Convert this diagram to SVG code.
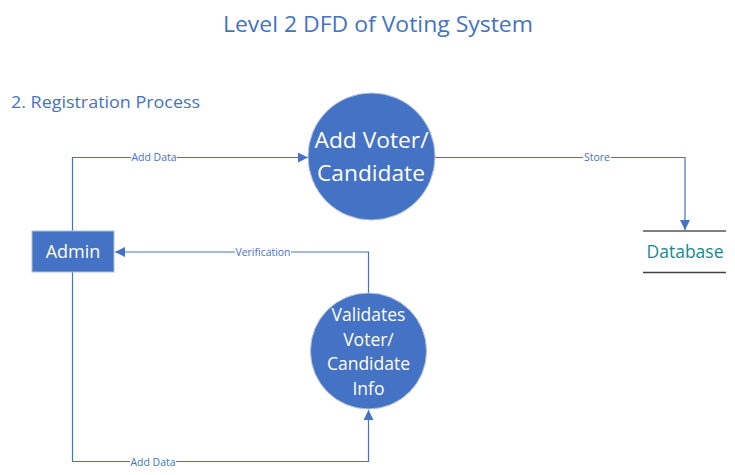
<svg xmlns="http://www.w3.org/2000/svg" width="735" height="475" viewBox="0 0 735 475">
<defs>
<marker id="arr" viewBox="0 0 10 10" refX="10" refY="5" markerWidth="10" markerHeight="10" markerUnits="userSpaceOnUse" orient="auto">
<path d="M0,0 L10,5 L0,10 z" fill="#4472C4"/>
</marker>
<style>
.t{font-family:"Open Sans","Noto Sans","Liberation Sans",sans-serif;}
.title{fill:#4472C4;}
.proc{fill:#4472C4;stroke:#b0c0dc;stroke-width:1;}
.wt{fill:#ffffff;text-anchor:middle;}
.conn{fill:none;stroke:#4472C4;stroke-width:1.2;}
.lbl{font-size:10.5px;fill:#4472C4;text-anchor:middle;}
.lbg{fill:#ffffff;}
</style>
</defs>
<rect width="735" height="475" fill="#ffffff"/>
<text class="t title" x="378" y="32" font-size="22" text-anchor="middle" textLength="310" lengthAdjust="spacingAndGlyphs">Level 2 DFD of Voting System</text>
<text class="t title" x="11" y="108" font-size="16" textLength="189" lengthAdjust="spacingAndGlyphs">2. Registration Process</text>

<g id="connectors">
<path class="conn" d="M72.5,231 V157.5 H308" marker-end="url(#arr)"/>
<path class="conn" d="M435,157.5 H685 V230" marker-end="url(#arr)"/>
<path class="conn" d="M368.5,293 V252 H115" marker-end="url(#arr)"/>
<path class="conn" d="M72.5,272 V461.5 H368.5 V410" marker-end="url(#arr)"/>
<rect class="lbg" x="131" y="152" width="46" height="11"/>
<text class="t lbl" x="154" y="161.2" textLength="45" lengthAdjust="spacingAndGlyphs">Add Data</text>
<rect class="lbg" x="583" y="152" width="28" height="11"/>
<text class="t lbl" x="597" y="161.2" textLength="26" lengthAdjust="spacingAndGlyphs">Store</text>
<rect class="lbg" x="235" y="246" width="56" height="11"/>
<text class="t lbl" x="263" y="255.7" textLength="55" lengthAdjust="spacingAndGlyphs">Verification</text>
<rect class="lbg" x="130" y="456" width="46" height="11"/>
<text class="t lbl" x="153" y="465.5" textLength="45" lengthAdjust="spacingAndGlyphs">Add Data</text>
</g>

<g id="admin">
<rect x="32" y="231" width="82" height="41" fill="#4472C4" stroke="#b0c0dc" stroke-width="1"/>
<text class="t wt" x="73" y="258" font-size="18">Admin</text>
</g>

<g id="add-voter">
<circle class="proc" cx="371.5" cy="156.5" r="63.5"/>
<text class="t wt" x="371.5" y="148" font-size="21" textLength="114" lengthAdjust="spacingAndGlyphs">Add Voter/</text>
<text class="t wt" x="371" y="180.5" font-size="21.5" textLength="108" lengthAdjust="spacingAndGlyphs">Candidate</text>
</g>

<g id="validates">
<circle class="proc" cx="368.5" cy="351" r="58"/>
<text class="t wt" x="368.5" y="320.5" font-size="17.5">Validates</text>
<text class="t wt" x="368.5" y="345.5" font-size="17.5">Voter/</text>
<text class="t wt" x="368.5" y="370" font-size="17.5">Candidate</text>
<text class="t wt" x="368.5" y="394.5" font-size="17.5">Info</text>
</g>

<g id="database">
<line x1="643" y1="231" x2="726" y2="231" stroke="#7f7f7f" stroke-width="2"/>
<line x1="643" y1="272.5" x2="726" y2="272.5" stroke="#404040" stroke-width="1.5"/>
<text class="t" x="685" y="258" font-size="17.5" fill="#148a8c" text-anchor="middle">Database</text>
</g>
</svg>
